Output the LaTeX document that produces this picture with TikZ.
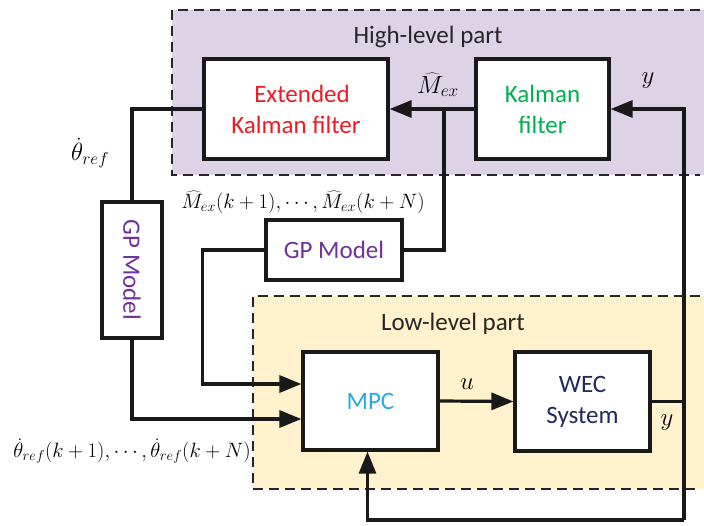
\documentclass[tikz,border=0pt]{standalone}
\usepackage{fontspec}
\setmainfont{Carlito}
\usetikzlibrary{arrows.meta}

\definecolor{ekfred}{HTML}{ED1C24}
\definecolor{kfgreen}{HTML}{00B050}
\definecolor{gppurple}{HTML}{7030A0}
\definecolor{mpcblue}{HTML}{29ABE2}
\definecolor{wecnavy}{HTML}{1F2A60}
\definecolor{highfill}{HTML}{DCD4E6}
\definecolor{lowfill}{HTML}{FFF2CC}

\tikzset{
    part/.style={draw=black!85, line width=2.9pt, dash pattern=on 10pt off 6pt},
    block/.style={draw=black!90, line width=3.2pt, fill=white, align=center, inner sep=0pt,
        font=\fontsize{25}{31}\selectfont},
    wire/.style={draw=black!90, line width=3.2pt},
    arrow/.style={wire, -{Triangle[length=22pt,width=17pt]}},
    lbl/.style={font=\fontsize{21}{25}\selectfont, inner sep=0pt},
    sig/.style={font=\fontsize{25}{29}\selectfont, inner sep=0pt},
    title/.style={font=\fontsize{25}{29}\selectfont, text=black!85, inner sep=0pt},
}

\begin{document}
\begin{tikzpicture}[x=1pt, y=-1pt]
                \useasboundingbox (0,0) rectangle (704,525);
                % the two parts
                \fill[highfill] (172,10) rectangle (704,175);
                \draw[part] (700,10) -- (172,10) -- (172,175) -- (700,175);
                \fill[lowfill] (253,296) rectangle (704,489);
                \draw[part] (700,296) -- (253,296) -- (253,489) -- (700,489);
                \node[title] (high) at (428,37) {High-level part};
                \node[title] (low) at (453,324) {Low-level part};
                % blocks
                \node[block, text=ekfred, minimum width=184pt, minimum height=100pt] (ekf) at (296,109) {\hspace*{12pt}Extended\\Kalman filter};
                \node[block, text=kfgreen, minimum width=133pt, minimum height=100pt] (kf) at (542.5,109) {Kalman\\filter};
                \node[block, text=gppurple, minimum width=136pt, minimum height=60pt] (gph) at (334,250) {GP Model};
                \node[block, text=gppurple, minimum width=60pt, minimum height=136pt] (gpv) at (132,270) {};
                \node[text=gppurple, rotate=-90, font=\fontsize{25}{31}\selectfont] (gpvtext) at (gpv) {GP Model};
                \node[block, text=mpcblue, minimum width=135pt, minimum height=98pt] (mpc) at (370.5,401) {MPC};
                \node[block, text=wecnavy, minimum width=135pt, minimum height=99pt] (wec) at (582.5,401.5) {WEC\\System};
                % connectors
                \coordinate (jm) at (444,109);
                \coordinate (ytop) at (684,109);
                \coordinate (ybot) at (684,520);
                \draw[arrow] (kf.west) -- (ekf.east);
                \draw[wire] (jm) |- (gph.east);
                \draw[wire] (ekf.west) -| (gpv.north);
                \draw[arrow] (gph.west) -- ++(-62,0) |- ([yshift=17pt]mpc.west);
                \draw[arrow] (gpv.south) |- ([yshift=-18pt]mpc.west);
                \draw[arrow] (mpc.east) -- (wec.west);
                \draw[wire] (wec.east) -- (wec.east -| ybot);
                \draw[arrow] (ybot) -- (ytop) -- (kf.east);
                \draw[arrow] (ybot) -| ([xshift=-3pt]mpc.south);
                % signal labels
                \node[sig] (mex) at (438,85) {$\widehat{M}_{ex}$};
                \node[sig] (yk) at (648,81) {$y$};
                \node[sig] (thref) at (90,153) {$\dot{\theta}_{ref}$};
                \node[lbl] (mexseq) at (303,202) {$\widehat{M}_{ex}(k+1),\cdots,\widehat{M}_{ex}(k+N)$};
                \node[lbl] (thseq) at (132,451) {$\dot{\theta}_{ref}(k+1),\cdots,\dot{\theta}_{ref}(k+N)$};
                \node[sig] (uin) at (467,384) {$u$};
                \node[sig] (yout) at (667,423) {$y$};
            \end{tikzpicture}
\end{document}
